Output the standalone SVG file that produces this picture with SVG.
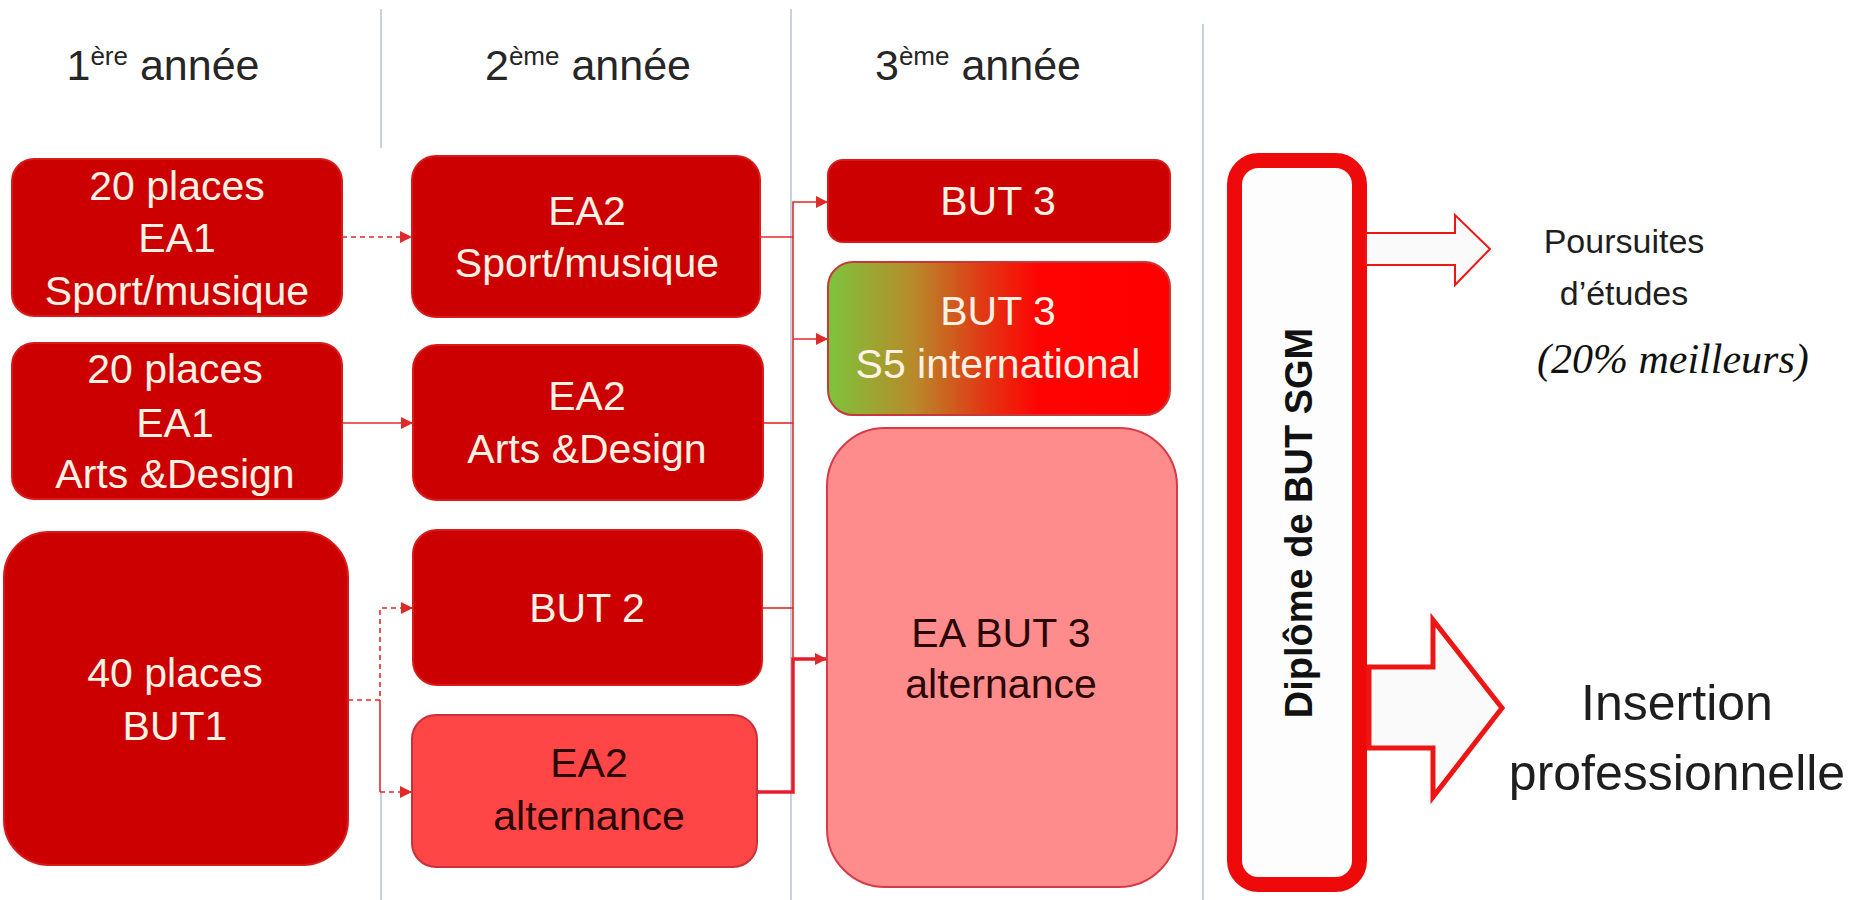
<svg xmlns="http://www.w3.org/2000/svg" width="1854" height="900" viewBox="0 0 1854 900">
<defs>
<style>
.hdr{font-family:"Liberation Sans",Arial,sans-serif;font-size:43px;fill:#262626;text-anchor:middle}
.sup{font-size:26px}
.box{fill:#CC0000;stroke:#D81A1A;stroke-width:2}
.lt{font-family:"Liberation Sans",Arial,sans-serif;font-size:41px;fill:#FFF1E4;text-anchor:middle}
.dk{font-family:"Liberation Sans",Arial,sans-serif;font-size:41px;fill:#2A0606;text-anchor:middle}
.sep{stroke:#C9D1DD;stroke-width:2;fill:none}
.con{stroke:#E02A2A;stroke-width:1.6;fill:none}
.dash{stroke-dasharray:5 4}
.thick{stroke:#E81C2C;stroke-width:3.5}
.out{font-family:"Liberation Sans",Arial,sans-serif;fill:#1E1E1E;text-anchor:middle}
.bigarrow{fill:#FAFAFA;stroke:#EE1515;stroke-linejoin:miter}
</style>
<marker id="ah" viewBox="0 0 10 10" refX="10" refY="5" markerWidth="13" markerHeight="12" markerUnits="userSpaceOnUse" orient="auto">
<path d="M0,0 L10,5 L0,10 z" fill="#E02A2A"/>
</marker>
<linearGradient id="gS5" x1="0" y1="0" x2="1" y2="0">
<stop offset="0" stop-color="#7CC43C"/>
<stop offset="0.25" stop-color="#B88A2A"/>
<stop offset="0.45" stop-color="#E03A14"/>
<stop offset="0.62" stop-color="#FF0202"/>
<stop offset="1" stop-color="#FF0000"/>
</linearGradient>
</defs>
<rect width="1854" height="900" fill="#FFFFFF"/>

<g id="separators">
<line class="sep" x1="381" y1="9" x2="381" y2="148"/>
<line class="sep" x1="381" y1="792" x2="381" y2="900"/>
<line class="sep" x1="791" y1="9" x2="791" y2="900"/>
<line class="sep" x1="1203" y1="24" x2="1203" y2="900"/>
</g>

<g id="headers">
<text class="hdr" x="163" y="80">1<tspan class="sup" dy="-15">ère</tspan><tspan dy="15"> année</tspan></text>
<text class="hdr" x="588" y="80">2<tspan class="sup" dy="-15">ème</tspan><tspan dy="15"> année</tspan></text>
<text class="hdr" x="978" y="80">3<tspan class="sup" dy="-15">ème</tspan><tspan dy="15"> année</tspan></text>
</g>

<g id="connectors">
<path class="con dash" d="M342,237 H412" marker-end="url(#ah)"/>
<path class="con" d="M340,423 H413" marker-end="url(#ah)"/>
<path class="con dash" d="M348,700 H380 V608 H413" marker-end="url(#ah)"/>
<path class="con" d="M380,700 V792"/>
<path class="con dash" d="M380,792 H412" marker-end="url(#ah)"/>
<path class="con" d="M760,237 H793"/>
<path class="con" d="M763,423 H793"/>
<path class="con" d="M762,608 H793"/>
<path class="con" d="M793,659 V202 H828" marker-end="url(#ah)"/>
<path class="con" d="M793,339 H828" marker-end="url(#ah)"/>
<path class="con thick" d="M757,792 H793 V659 H827" marker-end="url(#ah)"/>
</g>

<g id="n-ea1-sport">
<rect class="box" x="12" y="159" width="330" height="157" rx="22"/>
<text class="lt" x="177" y="200">20 places</text>
<text class="lt" x="177" y="252">EA1</text>
<text class="lt" x="177" y="305">Sport/musique</text>
</g>
<g id="n-ea1-arts">
<rect class="box" x="12" y="343" width="330" height="156" rx="22"/>
<text class="lt" x="175" y="383">20 places</text>
<text class="lt" x="175" y="437">EA1</text>
<text class="lt" x="175" y="488">Arts &amp;Design</text>
</g>
<g id="n-but1">
<rect class="box" x="4" y="532" width="344" height="333" rx="45"/>
<text class="lt" x="175" y="687">40 places</text>
<text class="lt" x="175" y="740">BUT1</text>
</g>

<g id="n-ea2-sport">
<rect class="box" x="412" y="156" width="348" height="161" rx="24"/>
<text class="lt" x="587" y="225">EA2</text>
<text class="lt" x="587" y="277">Sport/musique</text>
</g>
<g id="n-ea2-arts">
<rect class="box" x="413" y="345" width="350" height="155" rx="24"/>
<text class="lt" x="587" y="410">EA2</text>
<text class="lt" x="587" y="463">Arts &amp;Design</text>
</g>
<g id="n-but2">
<rect class="box" x="413" y="530" width="349" height="155" rx="24"/>
<text class="lt" x="587" y="622">BUT 2</text>
</g>
<g id="n-ea2-alt">
<rect x="412" y="715" width="345" height="152" rx="24" fill="#FF4646" stroke="#C8303A" stroke-width="2"/>
<text class="dk" x="589" y="777">EA2</text>
<text class="dk" x="589" y="830">alternance</text>
</g>

<g id="n-but3">
<rect class="box" x="828" y="160" width="342" height="82" rx="15"/>
<text class="lt" x="998" y="215">BUT 3</text>
</g>
<g id="n-but3-s5">
<rect x="828" y="262" width="342" height="153" rx="25" fill="url(#gS5)" stroke="#C8383A" stroke-width="2"/>
<text class="lt" x="998" y="325">BUT 3</text>
<text class="lt" x="998" y="378">S5 international</text>
</g>
<g id="n-ea-but3-alt">
<rect x="827" y="428" width="350" height="459" rx="58" fill="#FF8C8C" stroke="#D83A46" stroke-width="2"/>
<text class="dk" x="1001" y="647">EA BUT 3</text>
<text class="dk" x="1001" y="698">alternance</text>
</g>

<g id="n-diplome">
<rect x="1234.5" y="160.5" width="125" height="724" rx="24" fill="#FDFDFD" stroke="#EE0A0A" stroke-width="15"/>
<text x="1312" y="523" transform="rotate(-90 1312 523)" font-family="'Liberation Sans',Arial,sans-serif" font-weight="bold" font-size="38" fill="#111111" text-anchor="middle">Diplôme de BUT SGM</text>
</g>

<g id="n-arrow-poursuites">
<polygon class="bigarrow" stroke-width="2" points="1366,233 1455,233 1455,215 1490,249 1455,285 1455,265 1366,265"/>
</g>
<g id="n-poursuites">
<text class="out" font-size="34" x="1624" y="253">Poursuites</text>
<text class="out" font-size="34" x="1624" y="305">d’études</text>
<text x="1537" y="373" font-family="'Liberation Serif','Times New Roman',serif" font-style="italic" font-size="42" fill="#111111">(20% meilleurs)</text>
</g>

<g id="n-arrow-insertion">
<polygon class="bigarrow" stroke-width="5" points="1369,667 1433,667 1433,620 1502,708 1433,797 1433,748 1369,748"/>
</g>
<g id="n-insertion">
<text class="out" font-size="50" x="1677" y="720">Insertion</text>
<text class="out" font-size="50" x="1677" y="790">professionnelle</text>
</g>
</svg>
